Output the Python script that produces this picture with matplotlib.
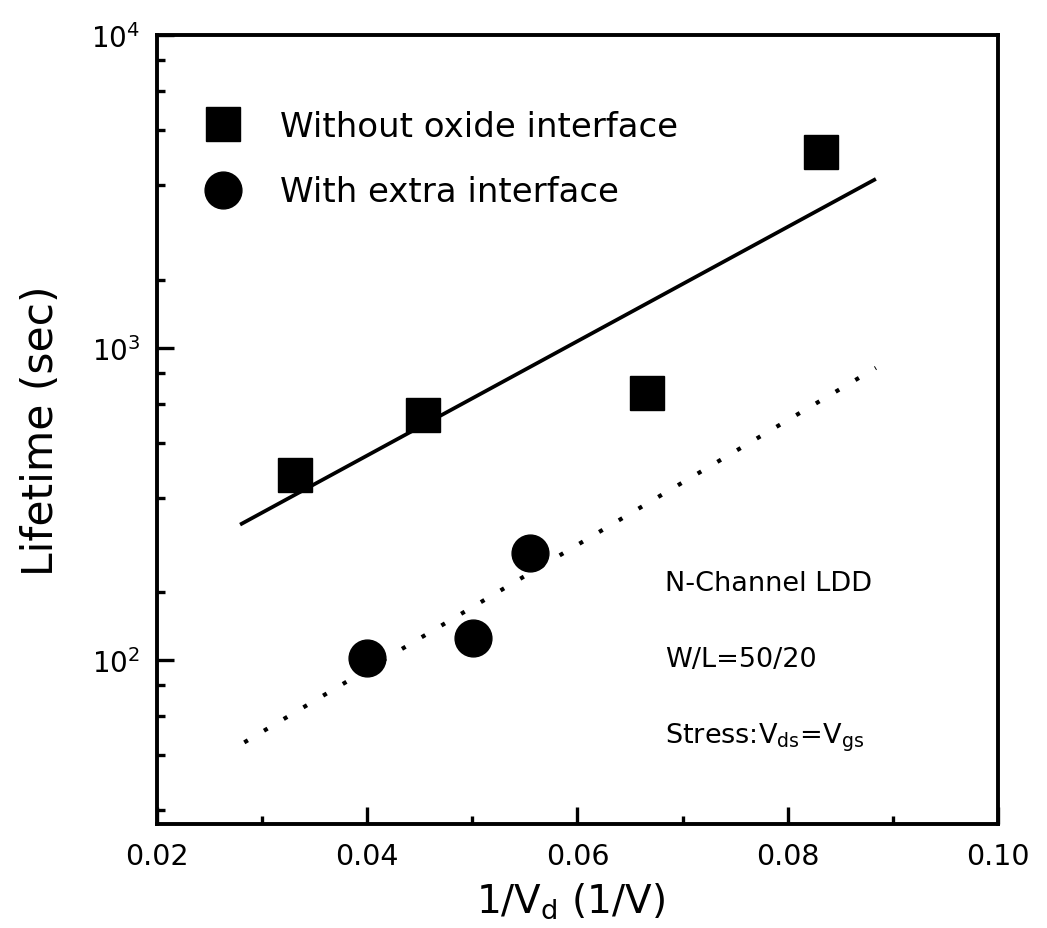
import matplotlib
matplotlib.use("Agg")
import matplotlib.pyplot as plt
from matplotlib.ticker import LogLocator, NullFormatter, MultipleLocator, FormatStrFormatter

plt.rcParams['font.family'] = ['DejaVu Sans']
plt.rcParams['mathtext.fontset'] = 'dejavusans'

# Data
x_without = [0.0331, 0.0453, 0.0666, 0.0832]
y_without = [393, 611, 718, 4230]
x_with = [0.0400, 0.0501, 0.0555]
y_with = [102, 118, 220]

# Fit lines (end points)
fit_solid_x = [0.0279, 0.0884]
fit_solid_y = [272, 3470]
fit_dot_x = [0.0283, 0.0884]
fit_dot_y = [54.7, 863]

labels = ["Without oxide interface", "With extra interface"]
notes = ["N-Channel LDD", "W/L=50/20", r"Stress:V$_{\mathrm{ds}}$=V$_{\mathrm{gs}}$"]
notes_y = [168, 96, 54.7]
notes_x = 0.0683

fig = plt.figure(figsize=(10.47, 9.29), dpi=100)
ax = fig.add_axes([0.150, 0.112, 0.803, 0.849])

ax.plot(fit_solid_x, fit_solid_y, color='black', lw=2.7, solid_capstyle='butt')
ax.plot(fit_dot_x, fit_dot_y, color='black', lw=3.0, linestyle=(0, (1, 4.5)))
h1, = ax.plot(x_without, y_without, ls='none', marker='s', ms=24.5, color='black', label=labels[0])
h2, = ax.plot(x_with, y_with, ls='none', marker='o', ms=26.5, color='black', label=labels[1])

ax.set_yscale('log')
ax.set_xlim(0.02, 0.10)
ax.set_ylim(30, 10000)

ax.xaxis.set_major_locator(MultipleLocator(0.02))
ax.xaxis.set_minor_locator(MultipleLocator(0.01))
ax.xaxis.set_major_formatter(FormatStrFormatter('%.2f'))
ax.yaxis.set_major_locator(LogLocator(base=10, numticks=10))
ax.yaxis.set_minor_locator(LogLocator(base=10, subs=(1.65, 3.32, 4.98, 6.62, 8.32), numticks=20))
ax.yaxis.set_minor_formatter(NullFormatter())

for s in ax.spines.values():
    s.set_linewidth(2.8)

ax.tick_params(which='both', direction='in', top=False, right=False, width=2.4)
ax.tick_params(which='major', length=12)
ax.tick_params(which='minor', length=6)
ax.tick_params(axis='x', which='major', labelsize=20.5, pad=13)
ax.tick_params(axis='y', which='major', labelsize=20, pad=12)

ax.set_ylabel("Lifetime (sec)", fontsize=30.5)
ax.set_xlabel(r"1/V$_{\mathrm{d}}$ (1/V)", fontsize=28)
ax.yaxis.set_label_coords(-0.113, 0.5)
ax.xaxis.set_label_coords(0.492, -0.072)

leg = ax.legend(handles=[h1, h2], loc='upper left', bbox_to_anchor=(0.054, 0.905),
                frameon=False, fontsize=24.5, handlelength=1.2, handletextpad=1.08,
                labelspacing=0.95, borderpad=0, borderaxespad=0, numpoints=1)

for t, yv in zip(notes, notes_y):
    ax.text(notes_x, yv, t, fontsize=19.5, ha='left', va='baseline')

fig.savefig("out.png", dpi=100)
